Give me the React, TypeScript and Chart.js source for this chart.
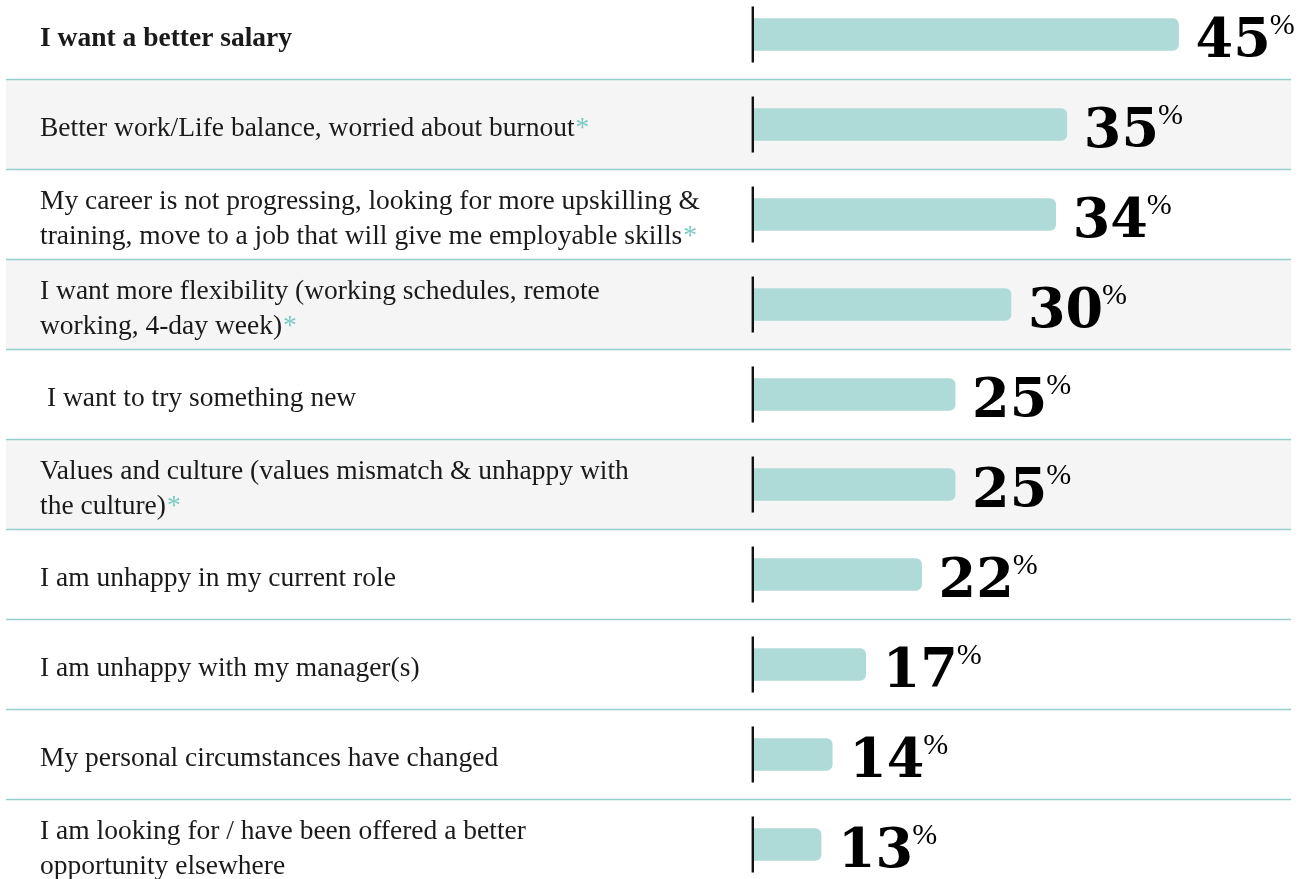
import React, { useEffect, useRef } from "react";
import { Chart, registerables } from "chart.js";

Chart.register(...registerables);

const categories: string[][] = [
  ["I want a better salary"],
  ["Better work/Life balance, worried about burnout"],
  ["My career is not progressing, looking for more upskilling &", "training, move to a job that will give me employable skills"],
  ["I want more flexibility (working schedules, remote", "working, 4-day week)"],
  [" I want to try something new"],
  ["Values and culture (values mismatch & unhappy with", "the culture)"],
  ["I am unhappy in my current role"],
  ["I am unhappy with my manager(s)"],
  ["My personal circumstances have changed"],
  ["I am looking for / have been offered a better", "opportunity elsewhere"],
];
const starred: boolean[] = [false, true, true, true, false, true, false, false, false, false];
const values: number[] = [45, 35, 34, 30, 25, 25, 22, 17, 14, 13];
const shadedRows: number[] = [1, 3, 5];
const boldRows: number[] = [0];
const AXIS_MIN = 7;
const AXIS_MAX = 55.6;

const BAR_COLOR = "#aedbd8";
const SEP_COLOR = "#93d0cb";
const ROW_BG = "#f5f5f5";
const STAR_COLOR = "#79c9c2";
const TEXT_COLOR = "#1a1a1a";
const LABEL_FONT = "'Liberation Serif', serif";

const rowsPlugin = {
  id: "rowsPlugin",
  beforeDatasetsDraw(chart: any) {
    const ctx = chart.ctx as CanvasRenderingContext2D;
    const y = chart.scales.y;
    const n = categories.length;
    const step = y.getPixelForValue(1) - y.getPixelForValue(0);
    ctx.save();
    shadedRows.forEach((i) => {
      const c = y.getPixelForValue(i);
      ctx.fillStyle = ROW_BG;
      ctx.fillRect(6, c - step / 2, 1285, step);
    });
    for (let i = 0; i < n - 1; i++) {
      const s = (y.getPixelForValue(i) + y.getPixelForValue(i + 1)) / 2;
      ctx.strokeStyle = SEP_COLOR;
      ctx.lineWidth = 1.5;
      ctx.beginPath();
      ctx.moveTo(6, s);
      ctx.lineTo(1291, s);
      ctx.stroke();
    }
    ctx.textBaseline = "alphabetic";
    ctx.textAlign = "left";
    categories.forEach((lines, i) => {
      const c = y.getPixelForValue(i);
      const bold = boldRows.includes(i);
      ctx.font = `${bold ? "bold " : ""}27.5px ${LABEL_FONT}`;
      const lh = 35;
      const base = lines.length === 1 ? c + 11.5 : c - 6;
      lines.forEach((line, k) => {
        const by = base + k * lh;
        ctx.fillStyle = TEXT_COLOR;
        ctx.fillText(line, 40, by);
        if (starred[i] && k === lines.length - 1) {
          const w = ctx.measureText(line).width;
          ctx.fillStyle = STAR_COLOR;
          ctx.fillText("*", 40 + w + 1, by);
        }
      });
    });
    ctx.restore();
  },
  afterDatasetsDraw(chart: any) {
    const ctx = chart.ctx as CanvasRenderingContext2D;
    const x = chart.scales.x;
    const meta = chart.getDatasetMeta(0);
    const left = x.getPixelForValue(AXIS_MIN);
    ctx.save();
    meta.data.forEach((bar: any, i: number) => {
      const c = bar.y;
      ctx.fillStyle = "#111";
      ctx.fillRect(left - 2.4, c - 28, 2.4, 56);
      const txt = String(values[i]);
      ctx.font = `bold 54px 'DejaVu Serif', serif`;
      ctx.textBaseline = "alphabetic";
      ctx.textAlign = "left";
      ctx.fillStyle = "#000";
      const tx = bar.x + 17;
      ctx.fillText(txt, tx, c + 22);
      const w = ctx.measureText(txt).width;
      ctx.font = `30px ${LABEL_FONT}`;
      ctx.textBaseline = "top";
      ctx.fillText("%", tx + w - 1, c - 23);
    });
    ctx.restore();
  },
};

export default function App() {
  const ref = useRef<HTMLCanvasElement | null>(null);
  useEffect(() => {
    if (!ref.current) return;
    const chart = new Chart(ref.current, {
      type: "bar",
      data: {
        labels: categories,
        datasets: [
          {
            data: values,
            base: AXIS_MIN,
            backgroundColor: BAR_COLOR,
            borderRadius: 6,
            borderSkipped: "start",
            barThickness: 32,
            clip: false,
          } as any,
        ],
      },
      options: {
        indexAxis: "y",
        responsive: false,
        animation: false,
        events: [],
        layout: { padding: { left: 754, right: 8, top: 34.5, bottom: 34.5 } },
        plugins: { legend: { display: false }, tooltip: { enabled: false } },
        scales: {
          x: { display: false, min: AXIS_MIN, max: AXIS_MAX },
          y: { display: false, offset: false, grid: { offset: false } },
        },
      },
      plugins: [rowsPlugin],
    });
    return () => chart.destroy();
  }, []);
  return (
    <div style={{ position: "fixed", left: 0, top: 0, width: 1305, height: 879, background: "#fff" }}>
      <canvas ref={ref} width={1305} height={879} style={{ width: 1305, height: 879, display: "block" }} />
    </div>
  );
}
